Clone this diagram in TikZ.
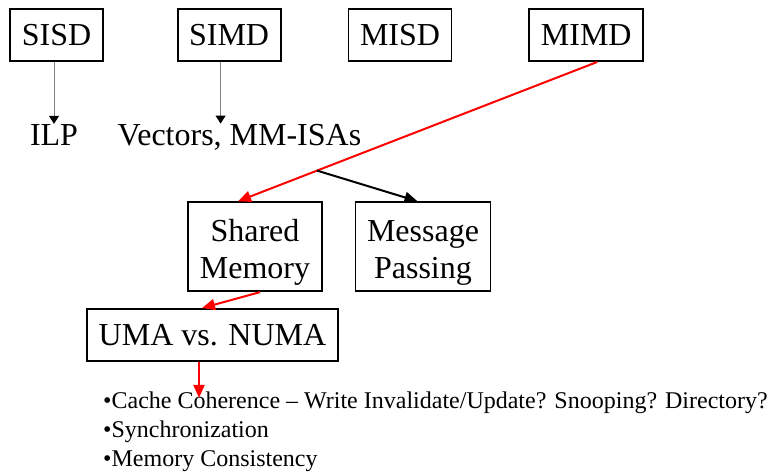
\documentclass[tikz,border=0pt]{standalone}
\usepackage{fontspec}
\setmainfont{Liberation Serif}
\usetikzlibrary{arrows.meta, positioning}
\tikzstyle{class_node} = [rectangle, draw=black, line width=1.9pt, minimum height=52pt, inner xsep=11.5pt, inner ysep=0pt, font=\fontsize{32}{37}\selectfont]
\tikzstyle{model_node} = [class_node, minimum height=89pt, align=center, text height=63pt, text depth=0pt]
\tikzstyle{leaf_label} = [inner sep=0pt, font=\fontsize{32}{37}\selectfont]
\tikzstyle{issue_text} = [inner sep=0pt, align=left, font=\fontsize{24}{29}\selectfont]
\tikzstyle{gray_arrow} = [gray, line width=1pt, -{Triangle[length=8pt, width=10pt, color=black]}]
\tikzstyle{red_arrow} = [red, line width=2pt, -{Triangle[length=13pt, width=11pt]}]
\tikzstyle{black_arrow} = [black, line width=2pt, -{Triangle[length=13pt, width=11pt]}]

\begin{document}
\begin{tikzpicture}[x=1pt, y=1pt]
\useasboundingbox (0,0) rectangle (768,-471);

% Flynn classes
\node (sisd) [class_node] at (56.5,-35) {SISD};
\node (simd) [class_node, right=73pt of sisd] {SIMD};
\node (misd) [class_node, right=66pt of simd] {MISD};
\node (mimd) [class_node, right=76pt of misd] {MIMD};

\node (ilp) [leaf_label, anchor=base] at (54,-145) {ILP};
\node (vectors) [leaf_label, anchor=base] at (239.5,-145) {Vectors, MM-ISAs};

\draw [gray_arrow] (sisd.south -| ilp.north) -- (ilp.north);
\draw [gray_arrow] ([xshift=-8.5pt]simd.south) -- ([xshift=-8.5pt]simd.south |- vectors.north);

% MIMD memory models
\node (shmem) [model_node] at (255,-246.7) {Shared\\Memory};
\node (msgpass) [model_node, right=32pt of shmem] {Message\\Passing};
\node (uma) [class_node] at (212.5,-335) {UMA vs. NUMA};
\node (issues) [issue_text, anchor=north west] at (103,-391.5)
  {\textbullet Cache Coherence -- Write Invalidate/Update? Snooping? Directory?\\
   \textbullet Synchronization\\
   \textbullet Memory Consistency};
\coordinate (issues_tip) at ([xshift=-13.5pt, yshift=-36pt]uma.south);

\draw [red_arrow] ([xshift=11pt]mimd.south) -- coordinate[pos=0.78] (fork) ([xshift=-17pt]shmem.north);
\draw [black_arrow] (fork) -- ([xshift=-5.5pt]msgpass.north);
\draw [red_arrow] ([xshift=5pt]shmem.south) -- ([xshift=-10.5pt]uma.north);
\draw [red_arrow] ([xshift=-13.5pt]uma.south) -- (issues_tip);
\end{tikzpicture}
\end{document}
